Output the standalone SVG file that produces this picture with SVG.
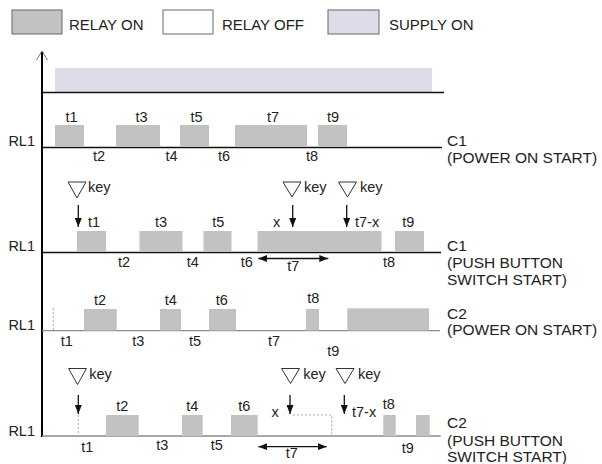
<svg xmlns="http://www.w3.org/2000/svg" width="602" height="464" viewBox="0 0 602 464">
<style>
text{font-family:"Liberation Sans",Arial,sans-serif;fill:#222}
.lg{font-size:15px}
.lb{font-size:15.5px}
.rl{font-size:14.5px;text-anchor:end}
.t{font-size:14.5px;text-anchor:middle}
.k{font-size:14.5px}
.on{fill:#c2c2c2}
.base{stroke:#111;stroke-width:1.3;fill:none}
.gbase{stroke:#8a8a8a;stroke-width:1.3;fill:none}
.dot{stroke:#aaa;stroke-width:1;stroke-dasharray:2,2;fill:none}
.tri{fill:none;stroke:#333;stroke-width:1}
.arr{stroke:#111;stroke-width:1.3;fill:none;marker-end:url(#ah)}
.dbl{stroke:#111;stroke-width:1.3;fill:none;marker-end:url(#ah);marker-start:url(#ah)}
</style>
<defs>
<marker id="ah" markerUnits="userSpaceOnUse" markerWidth="9" markerHeight="7" refX="9" refY="3.5" orient="auto-start-reverse">
<path d="M0,0 L9,3.5 L0,7 z" fill="#111"/>
</marker>
</defs>

<g id="legend">
<rect x="12" y="10" width="50" height="24" class="on" stroke="#666" stroke-width="1"/>
<text class="lg" x="69" y="30">RELAY ON</text>
<rect x="163" y="10" width="50" height="24" fill="#fff" stroke="#666" stroke-width="1"/>
<text class="lg" x="222" y="30">RELAY OFF</text>
<rect x="328" y="10" width="51" height="24" fill="#dcdde9" stroke="#666" stroke-width="1"/>
<text class="lg" x="389" y="30">SUPPLY ON</text>
</g>

<g id="axis">
<line x1="42" y1="52" x2="42" y2="437" stroke="#000" stroke-width="2"/>
<polyline points="36.5,60 42,51 47.5,60" fill="none" stroke="#555" stroke-width="0.8"/>
</g>

<g id="supply">
<rect x="55" y="68" width="377" height="24" fill="#dcdde9"/>
<line x1="42" y1="92.5" x2="444" y2="92.5" class="base"/>
</g>

<g id="row1">
<line x1="42" y1="147.5" x2="442" y2="147.5" class="base"/>
<rect class="on" x="55" y="125" width="29" height="22"/>
<rect class="on" x="116" y="125" width="44" height="22"/>
<rect class="on" x="180" y="125" width="29" height="22"/>
<rect class="on" x="235" y="125" width="72" height="22"/>
<rect class="on" x="318" y="125" width="29" height="22"/>
<text class="t" x="71.5" y="122">t1</text>
<text class="t" x="141.5" y="122">t3</text>
<text class="t" x="196.5" y="122">t5</text>
<text class="t" x="273" y="122">t7</text>
<text class="t" x="333" y="122">t9</text>
<text class="t" x="99" y="161">t2</text>
<text class="t" x="171.5" y="161">t4</text>
<text class="t" x="224" y="161">t6</text>
<text class="t" x="312" y="161">t8</text>
<text class="rl" x="35" y="146">RL1</text>
<text class="lb" x="447" y="146">C1</text>
<text class="lb" x="447" y="162.5">(POWER ON START)</text>
</g>

<g id="row2">
<line x1="42" y1="252.5" x2="441" y2="252.5" class="base"/>
<rect class="on" x="77" y="231" width="29" height="21"/>
<rect class="on" x="139.5" y="231" width="43" height="21"/>
<rect class="on" x="203.5" y="231" width="28" height="21"/>
<rect class="on" x="257.5" y="231" width="124" height="21"/>
<rect class="on" x="395" y="231" width="29" height="21"/>
<polygon class="tri" points="68,182 86,182 77,198"/>
<text class="k" x="88" y="192">key</text>
<line class="arr" x1="78.3" y1="205" x2="78.3" y2="227"/>
<polygon class="tri" points="283,182 301,182 292,197"/>
<text class="k" x="304" y="192">key</text>
<line class="arr" x1="292.7" y1="205" x2="292.7" y2="227"/>
<polygon class="tri" points="338.5,182 356.5,182 347.5,197"/>
<text class="k" x="360" y="192">key</text>
<line class="arr" x1="346.7" y1="205" x2="346.7" y2="227"/>
<text class="t" x="94" y="227">t1</text>
<text class="t" x="161" y="227">t3</text>
<text class="t" x="218.3" y="227">t5</text>
<text class="t" x="276.7" y="227">x</text>
<text class="k" x="355" y="227">t7-x</text>
<text class="t" x="408.3" y="227">t9</text>
<text class="t" x="124" y="267">t2</text>
<text class="t" x="192.7" y="267">t4</text>
<text class="t" x="246.7" y="267">t6</text>
<text class="t" x="389" y="267">t8</text>
<line class="dbl" x1="258.3" y1="258.5" x2="328.3" y2="258.5"/>
<text class="t" x="293.3" y="271">t7</text>
<text class="rl" x="35" y="251">RL1</text>
<text class="lb" x="447" y="251">C1</text>
<text class="lb" x="447" y="268">(PUSH BUTTON</text>
<text class="lb" x="447" y="285">SWITCH START)</text>
</g>

<g id="row3">
<line x1="42" y1="330.7" x2="440" y2="330.7" class="gbase"/>
<line class="dot" x1="53.3" y1="308" x2="53.3" y2="330"/>
<rect class="on" x="84" y="309" width="32.7" height="21.5"/>
<rect class="on" x="160" y="309" width="21" height="21.5"/>
<rect class="on" x="209" y="309" width="27" height="21.5"/>
<rect class="on" x="306" y="309" width="13" height="21.5"/>
<rect class="on" x="347.3" y="308.3" width="81.7" height="22.2"/>
<text class="t" x="100" y="305">t2</text>
<text class="t" x="170.7" y="305">t4</text>
<text class="t" x="221.7" y="305">t6</text>
<text class="t" x="313.3" y="303">t8</text>
<text class="t" x="66.7" y="346">t1</text>
<text class="t" x="138.3" y="346">t3</text>
<text class="t" x="195" y="346">t5</text>
<text class="t" x="274" y="346">t7</text>
<text class="t" x="333.3" y="356">t9</text>
<text class="rl" x="35" y="330">RL1</text>
<text class="lb" x="447" y="319">C2</text>
<text class="lb" x="447" y="335">(POWER ON START)</text>
</g>

<g id="row4">
<line x1="42" y1="436" x2="440.7" y2="436" class="gbase"/>
<polygon class="tri" points="68.5,368.5 86.5,368.5 77.5,384.5"/>
<text class="k" x="89.3" y="378.5">key</text>
<line class="arr" x1="78.3" y1="395" x2="78.3" y2="414"/>
<line class="dot" x1="78.3" y1="415" x2="78.3" y2="436"/>
<rect class="on" x="106" y="415" width="32.7" height="21"/>
<rect class="on" x="182" y="415" width="20.7" height="21"/>
<rect class="on" x="231" y="415" width="26.7" height="21"/>
<rect class="on" x="383.3" y="415" width="12.4" height="21"/>
<rect class="on" x="416" y="415" width="13.7" height="21"/>
<polygon class="tri" points="281.5,368.5 299.5,368.5 290.5,383.5"/>
<text class="k" x="303.3" y="378.5">key</text>
<line class="arr" x1="290" y1="395" x2="290" y2="414"/>
<polyline class="dot" points="293,415 331.7,415 331.7,436"/>
<polygon class="tri" points="336,368.5 354,368.5 345,383.5"/>
<text class="k" x="358" y="378.5">key</text>
<line class="arr" x1="344.3" y1="395" x2="344.3" y2="414"/>
<text class="t" x="122.3" y="410.7">t2</text>
<text class="t" x="192.3" y="410.7">t4</text>
<text class="t" x="244.3" y="410.7">t6</text>
<text class="t" x="275" y="416.7">x</text>
<text class="k" x="352" y="416.7">t7-x</text>
<text class="t" x="388.7" y="409">t8</text>
<text class="t" x="87.3" y="452">t1</text>
<text class="t" x="162.3" y="450">t3</text>
<text class="t" x="216.7" y="450">t5</text>
<line class="dbl" x1="258.3" y1="446.7" x2="326.7" y2="446.7"/>
<text class="t" x="291.7" y="458">t7</text>
<text class="t" x="407.7" y="453">t9</text>
<text class="rl" x="35" y="435.7">RL1</text>
<text class="lb" x="447" y="428">C2</text>
<text class="lb" x="447" y="445.5">(PUSH BUTTON</text>
<text class="lb" x="447" y="462">SWITCH START)</text>
</g>
</svg>
